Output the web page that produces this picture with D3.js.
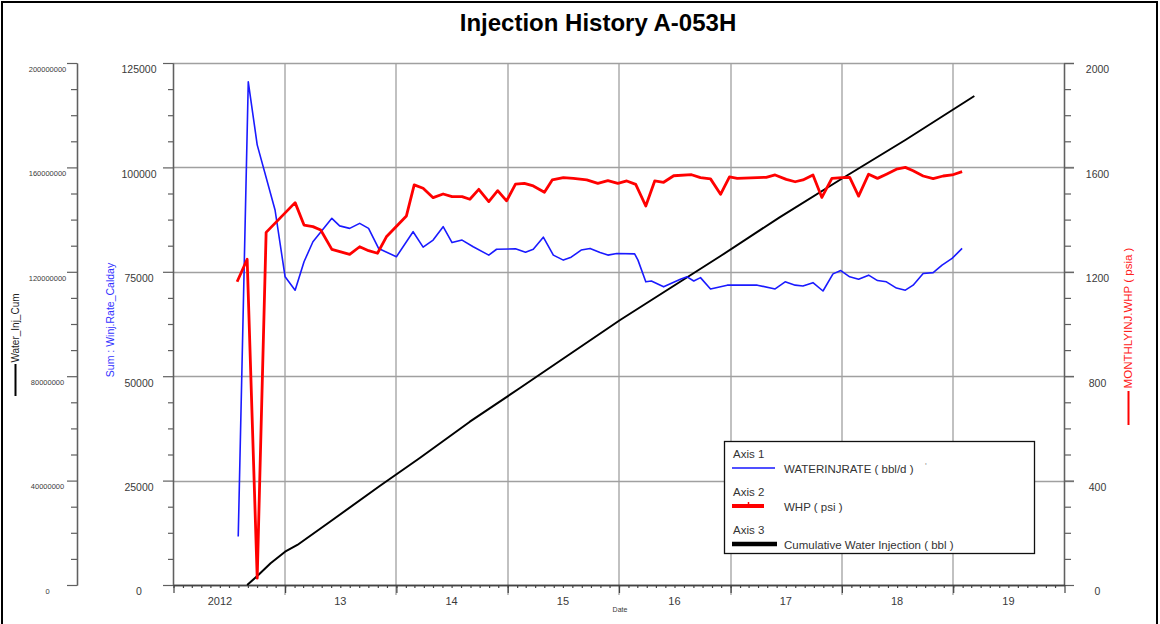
<!DOCTYPE html>
<html><head><meta charset="utf-8">
<script src="https://cdn.jsdelivr.net/npm/d3@7"></script>
<style>
html,body{margin:0;padding:0;background:#fff;}
svg{display:block;font-family:"Liberation Sans",Arial,sans-serif;}
</style></head>
<body><svg id="chart" width="1160" height="624"></svg>
<script>
// ---------------- DATA ----------------
const chartTitle = "Injection History A-053H";
const yearLabels = ["2012","13","14","15","16","17","18","19"];
const rateTicks = [0,25000,50000,75000,100000,125000];
const whpTicks = [0,400,800,1200,1600,2000];
const cumTicks = [0,40000000,80000000,120000000,160000000,200000000];

// WATERINJRATE (bbl/d) — dates as decimal years
const rateDates = [2012.58,2012.67,2012.75,2012.91,2013.00,2013.09,2013.17,2013.25,2013.42,2013.49,2013.58,2013.67,2013.75,2013.84,2014.00,2014.15,2014.24,2014.33,2014.42,2014.50,2014.59,2014.69,2014.83,2014.90,2015.07,2015.16,2015.23,2015.32,2015.41,2015.50,2015.57,2015.66,2015.74,2015.83,2015.90,2015.98,2016.14,2016.17,2016.24,2016.29,2016.40,2016.55,2016.61,2016.67,2016.73,2016.82,2016.97,2017.24,2017.40,2017.49,2017.58,2017.65,2017.74,2017.83,2017.92,2017.99,2018.07,2018.15,2018.24,2018.32,2018.40,2018.49,2018.57,2018.64,2018.73,2018.82,2018.90,2018.99,2019.08];
const rateValues = [11600,120500,105400,89800,73800,70600,77400,82200,87800,86000,85400,86600,85400,80600,78600,84600,80900,82600,85800,82000,82600,81000,79000,80400,80500,79700,80400,83300,79000,77800,78500,80200,80600,79600,79000,79400,79300,77800,72600,72800,71400,73200,73800,72800,73600,70900,71800,71800,70900,72600,71800,71600,72400,70400,74500,75300,73800,73200,74200,72900,72600,71100,70600,71800,74600,74800,76600,78200,80600];

// WHP (psi)
const whpDates = [2012.57,2012.66,2012.75,2012.83,2013.09,2013.17,2013.25,2013.32,2013.42,2013.58,2013.67,2013.75,2013.83,2013.91,2014.09,2014.16,2014.24,2014.33,2014.42,2014.50,2014.59,2014.66,2014.74,2014.83,2014.91,2014.99,2015.07,2015.15,2015.23,2015.33,2015.40,2015.50,2015.59,2015.71,2015.81,2015.90,2015.99,2016.07,2016.15,2016.24,2016.32,2016.40,2016.49,2016.65,2016.73,2016.82,2016.91,2016.99,2017.06,2017.32,2017.40,2017.50,2017.58,2017.65,2017.74,2017.82,2017.91,2018.00,2018.07,2018.15,2018.24,2018.32,2018.40,2018.49,2018.57,2018.64,2018.73,2018.82,2018.91,2018.99,2019.08];
const whpValues = [1162,1248,26,1351,1465,1379,1373,1360,1286,1267,1296,1281,1271,1334,1414,1533,1520,1484,1498,1488,1488,1478,1516,1469,1511,1472,1536,1539,1529,1505,1552,1561,1558,1552,1539,1549,1539,1548,1535,1452,1548,1543,1568,1572,1561,1556,1497,1564,1558,1562,1571,1554,1545,1552,1571,1485,1558,1561,1562,1490,1574,1558,1574,1593,1600,1587,1567,1557,1567,1571,1584];

// Cumulative Water Injection (bbl)
const cumDates = [2012.66,2012.76,2012.87,2013.00,2013.11,2013.40,2013.85,2014.21,2014.66,2015.11,2015.56,2016.01,2016.46,2016.91,2017.44,2017.98,2018.57,2019.19];
const cumValues = [0,3830000,8310000,12760000,15330000,24140000,37930000,48660000,62570000,75480000,88510000,101530000,113790000,126050000,140880000,155170000,170500000,187360000];

// ---------------- HELPERS ----------------
function decToDate(d){
  const y = Math.floor(d);
  const s = new Date(y,0,1).getTime(), e = new Date(y+1,0,1).getTime();
  return new Date(s + (d-y)*(e-s));
}
const svg = d3.select("#chart");
const L = 173, R = 1064, T = 63, B = 585;
const x = d3.scaleTime().domain([new Date(2012,0,1), new Date(2020,0,1)]).range([L+0.5, R+0.5]);
const yRate = d3.scaleLinear().domain([0,125000]).range([B,T]);
const yWhp = d3.scaleLinear().domain([0,2000]).range([B,T]);
const yCum = d3.scaleLinear().domain([0,200000000]).range([B,T]);
const tickCol = "#3a3a3a", gridCol = "#a0a0a0", axisCol = "#606060";

// frame
svg.append("rect").attr("x",2).attr("y",2).attr("width",1155).attr("height",640)
  .attr("fill","none").attr("stroke","#000").attr("stroke-width",2);

// title
svg.append("text").attr("x",598).attr("y",31).attr("text-anchor","middle")
  .attr("font-size",24).attr("font-weight","bold").attr("fill","#000").text(chartTitle);

// gridlines
const years = d3.timeYear.range(new Date(2012,0,1), new Date(2021,0,1));
svg.append("g").selectAll("line").data(rateTicks.filter(d=>d>0)).join("line")
  .attr("x1",L).attr("x2",R+10).attr("y1",d=>Math.round(yRate(d))+0.5).attr("y2",d=>Math.round(yRate(d))+0.5)
  .attr("stroke",gridCol).attr("stroke-width",1.3);
svg.append("g").selectAll("line").data(years.filter(d=>d.getFullYear()>2012 && d.getFullYear()<2020)).join("line")
  .attr("x1",d=>Math.round(x(d))).attr("x2",d=>Math.round(x(d)))
  .attr("y1",T).attr("y2",B+10).attr("stroke",gridCol).attr("stroke-width",1.3);

function styleAxis(g, col){
  g.select(".domain").attr("stroke",col||axisCol).attr("stroke-width",1.3);
  g.selectAll(".tick line").attr("stroke",col||axisCol).attr("stroke-width",1.2);
}
function minorVals(ticks, n){
  const out=[]; for(let i=0;i<ticks.length-1;i++){const s=(ticks[i+1]-ticks[i])/n; for(let k=1;k<n;k++) out.push(ticks[i]+k*s);} return out;
}

// Blue (rate) axis
const gRateMinor = svg.append("g").attr("transform",`translate(${L},0)`)
  .call(d3.axisLeft(yRate).tickValues(minorVals(rateTicks,4)).tickSize(5).tickFormat("").tickSizeOuter(0));
styleAxis(gRateMinor);
const gRate = svg.append("g").attr("transform",`translate(${L},0)`)
  .call(d3.axisLeft(yRate).tickValues(rateTicks).tickSize(10).tickSizeOuter(0).tickFormat(d3.format("d")));
styleAxis(gRate);
gRate.selectAll("text").attr("x",-34).attr("dy","0.95em").attr("text-anchor","middle")
  .attr("font-size",10.5).attr("fill",tickCol).attr("font-family","Liberation Sans, Arial, sans-serif");

// Outer left (cumulative) axis
const CX = 77;
const gCumMinor = svg.append("g").attr("transform",`translate(${CX},0)`)
  .call(d3.axisLeft(yCum).tickValues(minorVals(cumTicks,4)).tickSize(6).tickFormat("").tickSizeOuter(0));
styleAxis(gCumMinor);
const gCum = svg.append("g").attr("transform",`translate(${CX},0)`)
  .call(d3.axisLeft(yCum).tickValues(cumTicks).tickSize(10).tickSizeOuter(0).tickFormat(d3.format("d")));
styleAxis(gCum);
gCum.selectAll("text").attr("x",-29.5).attr("dy","1.1em").attr("text-anchor","middle")
  .attr("font-size",7.5).attr("fill",tickCol).attr("font-family","Liberation Sans, Arial, sans-serif");

// Right (WHP) axis
const gWhpMinor = svg.append("g").attr("transform",`translate(${R},0)`)
  .call(d3.axisRight(yWhp).tickValues(minorVals(whpTicks,4)).tickSize(7).tickFormat("").tickSizeOuter(0));
styleAxis(gWhpMinor);
const gWhp = svg.append("g").attr("transform",`translate(${R},0)`)
  .call(d3.axisRight(yWhp).tickValues(whpTicks).tickSize(10).tickSizeOuter(0).tickFormat(d3.format("d")));
styleAxis(gWhp);
gWhp.selectAll("text").attr("x",33.5).attr("dy","0.95em").attr("text-anchor","middle")
  .attr("font-size",10.5).attr("fill",tickCol).attr("font-family","Liberation Sans, Arial, sans-serif");

// Bottom axis
const gXMinor = svg.append("g").attr("transform",`translate(0,${B})`)
  .call(d3.axisBottom(x).tickValues(d3.timeMonth.range(new Date(2012,0,1), new Date(2020,0,1))).tickSize(3).tickFormat("").tickSizeOuter(0));
styleAxis(gXMinor,"#444");
const gX = svg.append("g").attr("transform",`translate(0,${B})`)
  .call(d3.axisBottom(x).tickValues(years.filter(d=>d.getFullYear()<=2020)).tickSize(8).tickFormat("").tickSizeOuter(0));
styleAxis(gX,"#444");
svg.append("g").selectAll("text").data(yearLabels).join("text")
  .attr("x",(d,i)=>x(new Date(2012+i,6,1)) - (i===0?9:0)).attr("y",605)
  .attr("text-anchor","middle").attr("font-size",11).attr("fill",tickCol).text(d=>d);
svg.append("text").attr("x",620).attr("y",612).attr("text-anchor","middle").attr("font-size",7).attr("fill",tickCol).text("Date");

// Axis titles
svg.append("text").attr("transform","translate(19,328) rotate(-90)").attr("text-anchor","middle")
  .attr("font-size",10).attr("fill","#222").text("Water_Inj_Cum");
svg.append("line").attr("x1",15.5).attr("x2",15.5).attr("y1",364).attr("y2",396).attr("stroke","#000").attr("stroke-width",2);
svg.append("text").attr("transform","translate(114,320) rotate(-90)").attr("text-anchor","middle")
  .attr("font-size",10.5).attr("fill","#3333ff").text("Sum : Winj.Rate_Calday");
svg.append("text").attr("transform","translate(1132,318) rotate(-90)").attr("text-anchor","middle")
  .attr("font-size",11.5).attr("fill","#ff2020").text("MONTHLYINJ.WHP ( psia )");
svg.append("line").attr("x1",1128.5).attr("x2",1128.5).attr("y1",391).attr("y2",425).attr("stroke","#ff0000").attr("stroke-width",2);

// Series
const line = (ys)=>d3.line().x(d=>x(decToDate(d[0]))).y(d=>ys(d[1]));
svg.append("path").datum(d3.zip(cumDates,cumValues)).attr("d",line(yCum))
  .attr("fill","none").attr("stroke","#000").attr("stroke-width",2).attr("stroke-linejoin","round");
svg.append("path").datum(d3.zip(rateDates,rateValues)).attr("d",line(yRate))
  .attr("fill","none").attr("stroke","#1a1aff").attr("stroke-width",1.6).attr("stroke-linejoin","round");
svg.append("path").datum(d3.zip(whpDates,whpValues)).attr("d",line(yWhp))
  .attr("fill","none").attr("stroke","#ff0000").attr("stroke-width",2.8).attr("stroke-linejoin","round");

// Legend
const lg = svg.append("g");
lg.append("rect").attr("x",724.5).attr("y",441.5).attr("width",310).attr("height",112)
  .attr("fill","#fff").attr("stroke","#111").attr("stroke-width",1.3);
const legendItems = [
  {axis:"Axis 1", label:"WATERINJRATE ( bbl/d )", color:"#5050ff", w:2, x2:775},
  {axis:"Axis 2", label:"WHP ( psi )", color:"#ff0000", w:4, x2:764},
  {axis:"Axis 3", label:"Cumulative Water Injection ( bbl )", color:"#000", w:4.5, x2:777}
];
legendItems.forEach((it,i)=>{
  const y0 = 458 + i*38;
  lg.append("text").attr("x",733).attr("y",y0).attr("font-size",11.5).attr("fill","#333").text(it.axis);
  lg.append("line").attr("x1",732).attr("x2",it.x2).attr("y1",y0+10).attr("y2",y0+10)
    .attr("stroke",it.color).attr("stroke-width",it.w);
  lg.append("text").attr("x",784).attr("y",y0+15).attr("font-size",11.5).attr("fill","#333").text(it.label);
});
lg.append("line").attr("x1",748.5).attr("x2",748.5).attr("y1",502).attr("y2",507).attr("stroke","#ff0000").attr("stroke-width",1.5);
lg.append("text").attr("x",925).attr("y",469).attr("font-size",9).attr("fill","#999").text("'");
</script></body></html>
